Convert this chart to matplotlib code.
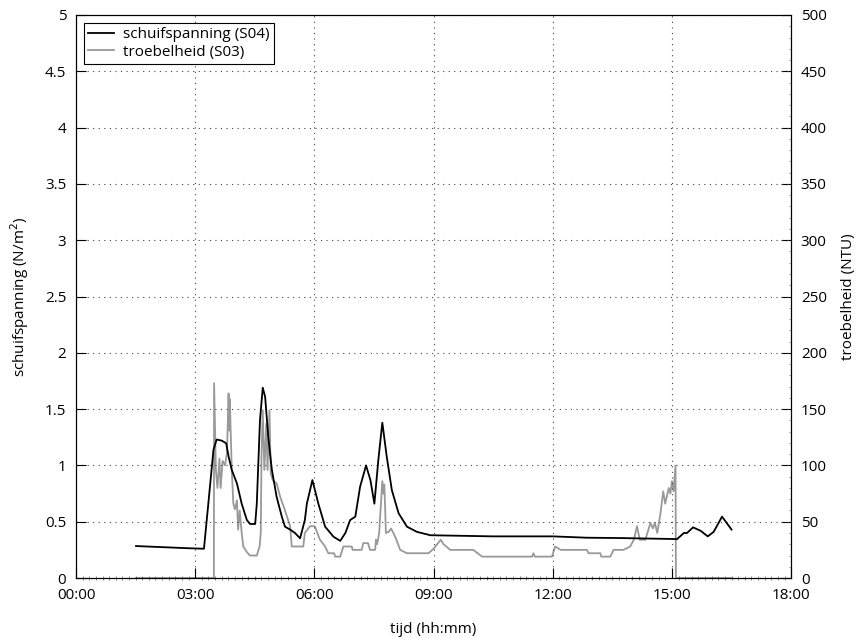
import matplotlib
matplotlib.use('Agg')
import matplotlib.pyplot as plt
from matplotlib.ticker import FuncFormatter, MultipleLocator

# schuifspanning (S04), tijd in uren
t_shear = [1.51, 2.87, 3.22, 3.33, 3.46, 3.54, 3.67, 3.78, 3.84, 3.92, 4.05, 4.17, 4.30,
           4.38, 4.51, 4.55, 4.63, 4.70, 4.76, 4.84, 4.93, 5.05, 5.18, 5.26, 5.39, 5.51,
           5.64, 5.76, 5.81, 5.95, 6.10, 6.27, 6.48, 6.65, 6.78, 6.90, 7.03, 7.15, 7.30,
           7.41, 7.51, 7.61, 7.71, 7.82, 7.95, 8.12, 8.33, 8.58, 8.92, 10.5, 12.0, 12.86,
           13.70, 15.13, 15.30, 15.38, 15.53, 15.72, 15.90, 16.05, 16.26, 16.50]
shear = [0.284, 0.264, 0.26, 0.66, 1.14, 1.23, 1.22, 1.196, 1.08, 0.96, 0.84, 0.66, 0.515,
         0.48, 0.48, 0.66, 1.40, 1.69, 1.61, 1.25, 0.96, 0.72, 0.545, 0.456, 0.43, 0.40,
         0.353, 0.515, 0.66, 0.87, 0.66, 0.456, 0.367, 0.33, 0.40, 0.515, 0.545, 0.81, 1.0,
         0.87, 0.66, 1.05, 1.38, 1.08, 0.78, 0.575, 0.456, 0.41, 0.38, 0.37, 0.37, 0.358,
         0.355, 0.346, 0.40, 0.40, 0.45, 0.42, 0.37, 0.41, 0.545, 0.43]

# troebelheid (S03), NTU
t_turb = [1.51, 3.47, 3.475, 3.52, 3.56, 3.61, 3.64, 3.69, 3.75, 3.80, 3.84, 3.86, 3.87,
          3.92, 3.96, 4.00, 4.05, 4.08, 4.12, 4.17, 4.21, 4.30, 4.38, 4.55, 4.62, 4.65,
          4.67, 4.70, 4.74, 4.79, 4.82, 4.87, 4.90, 4.95, 5.05, 5.14, 5.26, 5.39, 5.43,
          5.72, 5.76, 5.89, 6.01, 6.14, 6.27, 6.35, 6.50, 6.52, 6.65, 6.73, 6.94, 6.96,
          7.19, 7.23, 7.35, 7.40, 7.53, 7.55, 7.58, 7.63, 7.68, 7.71, 7.74, 7.76, 7.78,
          7.80, 7.87, 7.93, 8.03, 8.16, 8.33, 8.87, 9.00, 9.18, 9.25, 9.42, 10.0, 10.22,
          11.48, 11.51, 11.55, 11.98, 12.06, 12.20, 12.86, 12.90, 13.20, 13.22, 13.45,
          13.53, 13.78, 13.95, 14.04, 14.12, 14.19, 14.33, 14.46, 14.52, 14.57, 14.63,
          14.71, 14.78, 14.83, 14.92, 14.96, 15.00, 15.04, 15.09, 15.10, 16.51]
turb = [0, 0, 173, 96, 80, 106, 80, 104, 100, 111, 164, 131, 159,
        96, 66, 61, 69, 43, 60, 40, 28, 23, 20, 20, 28, 40,
        111, 149, 96, 137, 96, 149, 93, 87, 84, 72, 60, 46, 28,
        28, 40, 46, 46, 34, 28, 22, 22, 19, 19, 28, 28, 25,
        25, 31, 31, 25, 25, 34, 30, 40, 69, 86, 75, 83, 63,
        40, 41, 44, 37, 25, 22, 22, 26, 34, 30, 25, 25, 19,
        19, 22, 19, 19, 28, 25, 25, 22, 22, 19, 19,
        25, 25, 28, 34, 46, 34, 34, 49, 44, 49, 40,
        57, 77, 66, 80, 75, 86, 77, 100, 0, 0]

x_ticks = [0, 3, 6, 9, 12, 15, 18]

plt.rcParams['font.family'] = ['Open Sans', 'DejaVu Sans']
plt.rcParams['font.size'] = 11

fig = plt.figure(figsize=(8.59, 6.38), dpi=100)
ax = fig.add_axes([0.0885, 0.094, 0.8325, 0.8825])
ax2 = ax.twinx()

l1, = ax.plot(t_shear, shear, color='black', lw=1.3, label='schuifspanning (S04)', zorder=3)
l2, = ax2.plot(t_turb, turb, color='#999999', lw=1.3, label='troebelheid (S03)', zorder=2)
ax.set_zorder(ax2.get_zorder() + 1)
ax.patch.set_visible(False)

ax.set_xlim(0, 18)
ax.set_ylim(0, 5)
ax2.set_ylim(0, 500)
ax.set_xticks(x_ticks)
ax.xaxis.set_major_formatter(FuncFormatter(lambda v, p: '%02d:%02d' % (int(v), round((v % 1) * 60))))
ax.xaxis.set_minor_locator(MultipleLocator(1 / 6))
ax.yaxis.set_major_locator(MultipleLocator(0.5))
ax.yaxis.set_major_formatter(FuncFormatter(lambda v, p: ('%g' % v)))
ax2.yaxis.set_major_locator(MultipleLocator(50))
ax2.yaxis.set_minor_locator(MultipleLocator(10))

ax.tick_params(which='major', direction='in', length=7, width=0.8, pad=7)
ax.tick_params(which='minor', direction='inout', length=2.5, width=0.5, color='#555555')
ax2.tick_params(which='major', direction='in', length=7, width=0.8, pad=7)
ax2.tick_params(which='minor', direction='in', length=1.5, width=0.5, color='#777777')

ax.grid(True, which='major', linestyle=(0, (1, 4)), color='#444444', lw=0.8)

ax.set_xlabel('tijd (hh:mm)', labelpad=14)
ax.set_ylabel('schuifspanning (N/m$^2$)', labelpad=10)
ax2.set_ylabel('troebelheid (NTU)', labelpad=10)

leg = ax.legend(handles=[l1, l2], loc='upper left', fancybox=False, edgecolor='black',
                framealpha=1, borderpad=0.3, handlelength=1.7, handletextpad=0.6,
                labelspacing=0.15)
leg.get_frame().set_linewidth(0.8)

fig.savefig('out.png', dpi=100)
